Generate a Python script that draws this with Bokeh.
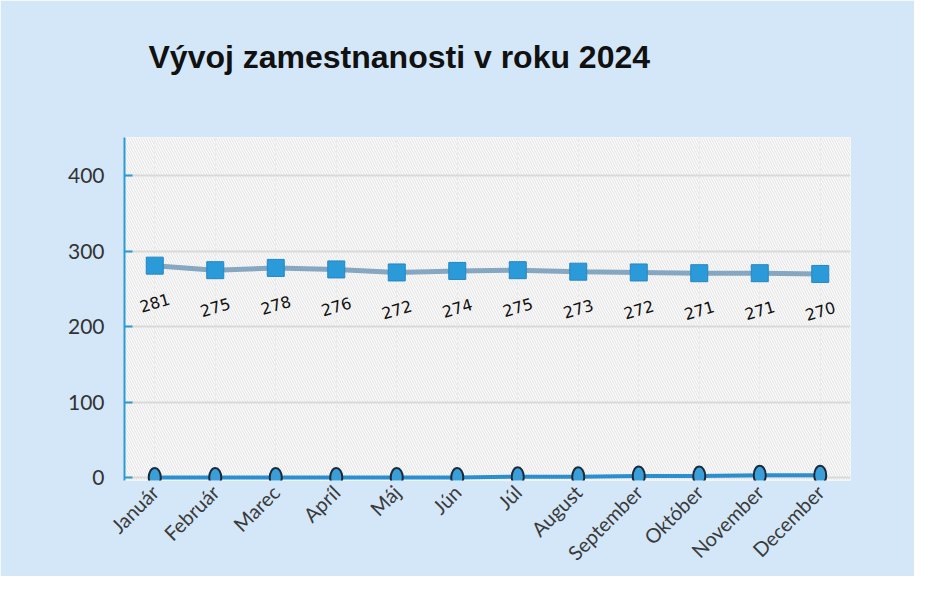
from bokeh.plotting import figure
from bokeh.models import Range1d, BoxAnnotation, ColumnDataSource, FixedTicker, Title
from bokeh.core.properties import value
from bokeh.embed import file_html
from bokeh.resources import INLINE
import math

months = ["Január", "Február", "Marec", "Apríl", "Máj", "Jún", "Júl",
          "August", "September", "Október", "November", "December"]
employed = [281, 275, 278, 276, 272, 274, 275, 273, 272, 271, 271, 270]
second = [0, 0, 0, 0, 0, 0, 1, 1, 2, 2, 3, 3]
y_ticks = [0, 100, 200, 300, 400]
title_text = "Vývoj zamestnanosti v roku  2024"

BG = "#d3e7f8"
BLUE = "#2a9ad8"

src1 = ColumnDataSource(dict(x=months, y=employed, lab=[str(v) for v in employed]))
src2 = ColumnDataSource(dict(x=months, y=second))

p = figure(x_range=months, y_range=Range1d(-4, 451), width=914, height=576,
           output_backend="svg", toolbar_location=None,
           min_border_left=124, min_border_right=64, min_border_bottom=0,
           min_border_top=137)
p.border_fill_color = BG
p.background_fill_color = "#fbfbfb"
p.outline_line_color = None

spacer = Title(text=" ", text_font_size="1px", standoff=60)
p.add_layout(spacer, "above")
t = Title(text=title_text, align="left",
          text_font="Liberation Sans",
          text_font_style="bold", text_font_size="32px", text_color="#111111",
          offset=24, standoff=0)
p.add_layout(t, "above")

hatch = BoxAnnotation(fill_color="#fbfbfb", fill_alpha=1.0, hatch_pattern="\\",
                      hatch_color="#e2e2e2", hatch_scale=5, hatch_weight=1,
                      line_color=None, level="image")
p.add_layout(hatch)

p.ygrid.grid_line_color = "#d9d9d9"
p.ygrid.grid_line_width = 2
p.xgrid.grid_line_color = "#ececec"
p.xgrid.grid_line_width = 1

p.yaxis.ticker = FixedTicker(ticks=y_ticks)
p.yaxis.axis_line_color = BLUE
p.yaxis.axis_line_width = 2
p.yaxis.major_tick_line_color = BLUE
p.yaxis.major_tick_line_width = 2
p.yaxis.major_tick_in = 8
p.yaxis.major_tick_out = 0
p.yaxis.minor_tick_line_color = None
p.yaxis.major_label_text_font = "Lato"
p.yaxis.major_label_text_font_size = "21px"
p.yaxis.major_label_text_color = "#333333"
p.yaxis.major_label_standoff = 20

p.xaxis.axis_line_color = None
p.xaxis.major_tick_line_color = None
p.xaxis.minor_tick_line_color = None
p.xaxis.major_label_orientation = math.pi / 4
p.xaxis.major_label_text_font = "Lato"
p.xaxis.major_label_text_font_size = "20px"
p.xaxis.major_label_text_color = "#3a3a3a"
p.xaxis.major_label_standoff = 2

p.line("x", "y", source=src1, line_color="#86a7c2", line_width=5)
p.scatter("x", "y", source=src1, marker="square", size=17,
          fill_color=BLUE, line_color="#2487c4", line_width=1)
p.text("x", "y", text="lab", source=src1, y_offset=37, angle=0.28,
       text_align="center", text_baseline="middle",
       text_font=value("DejaVu Sans"), text_font_size="16px", text_color="#111111")

p.line("x", "y", source=src2, line_color="#2a8fd0", line_width=4)
p.ellipse("x", "y", source=src2, width=12, height=19, width_units="screen",
          height_units="screen", fill_color="#3a9fd8", line_color="#1a2a3a",
          line_width=2)

open("out.html", "w").write(file_html(p, INLINE))
